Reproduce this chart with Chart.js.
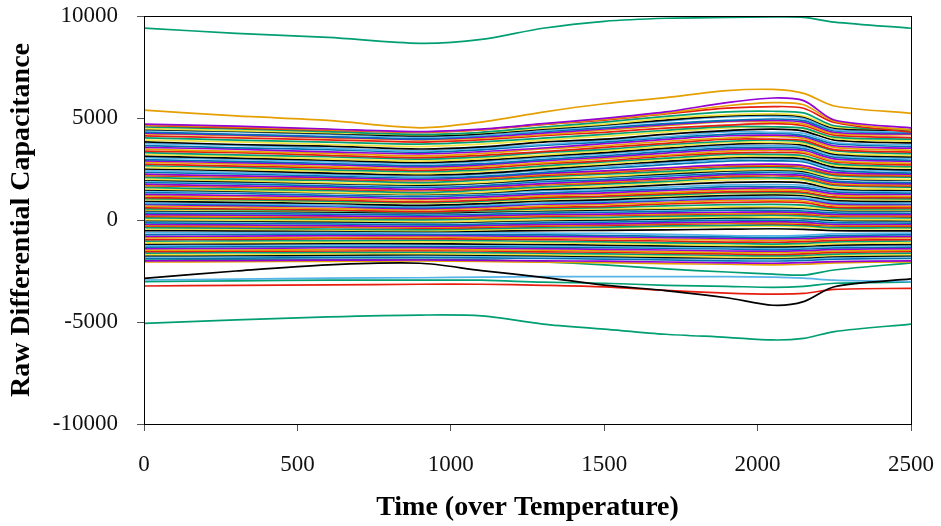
<!DOCTYPE html>
<html>
<head>
<meta charset="utf-8">
<script src="https://cdn.jsdelivr.net/npm/chart.js@4/dist/chart.umd.min.js"></script>
<style>
  html, body { margin: 0; padding: 0; background: #fff; }
  #wrap { width: 941px; height: 526px; }
</style>
</head>
<body>
<div id="wrap"><canvas id="capChart" width="941" height="526"></canvas></div>
<script>
// ─── Data (values at each sample time) ───
const timeSteps = [0, 300, 600, 900, 1100, 1300, 1500, 1700, 1900, 2050, 2150, 2250, 2500];

const xTicks = [0, 500, 1000, 1500, 2000, 2500];
const yTicks = [-10000, -5000, 0, 5000, 10000];

// the few curves that stand apart from the bundle
const outlierRows = [
    [9410, 9150, 8950, 8660, 8850, 9400, 9740, 9890, 9930, 9950, 9930, 9700, 9400],
    [5390, 5100, 4880, 4520, 4800, 5290, 5700, 6000, 6340, 6400, 6210, 5590, 5230],
    [-5065, -4900, -4750, -4660, -4700, -5100, -5350, -5600, -5750, -5880, -5800, -5470, -5100],
    [-2860, -2500, -2200, -2120, -2480, -2810, -3190, -3460, -3810, -4180, -4000, -3270, -2890],
    [-3235, -3200, -3180, -3150, -3150, -3200, -3280, -3450, -3580, -3630, -3600, -3400, -3350],
    [-2940, -2900, -2850, -2830, -2800, -2780, -2780, -2780, -2780, -2800, -2850, -2950, -3020],
    [-3020, -2980, -2950, -2950, -2950, -3050, -3100, -3200, -3250, -3300, -3250, -3100, -3040],
    [-1960, -1950, -1940, -1930, -1950, -2050, -2200, -2400, -2550, -2650, -2700, -2450, -2100]
];
const outlierColors = ['#009E73', '#E69F00', '#009E73', '#000000', '#E51E10', '#56B4E9', '#009E73', '#009E73'];

const bandTop = [
    [4700, 4600, 4460, 4330, 4450, 4720, 4980, 5300, 5750, 5980, 5850, 4900, 4520],
    [4660, 4560, 4430, 4310, 4430, 4700, 4930, 5230, 5600, 5750, 5650, 4850, 4400],
    [4640, 4520, 4400, 4300, 4420, 4680, 4900, 5200, 5480, 5560, 5480, 4780, 4300],
    [4560, 4470, 4330, 4200, 4300, 4560, 4800, 5080, 5300, 5330, 5250, 4620, 4420],
    [4480, 4380, 4280, 4180, 4280, 4500, 4700, 4980, 5150, 5200, 5100, 4560, 4480],
    [4440, 4350, 4240, 4120, 4220, 4450, 4660, 4900, 5100, 5150, 5050, 4500, 4400],
    [4400, 4320, 4200, 4060, 4160, 4380, 4620, 4850, 5050, 5080, 4980, 4420, 4330],
    [4310, 4200, 4090, 3980, 4120, 4330, 4520, 4720, 4880, 4950, 4870, 4380, 4270],
    [4260, 4170, 4060, 3950, 4060, 4260, 4460, 4680, 4850, 4880, 4800, 4300, 4220],
    [4220, 4140, 4020, 3930, 4010, 4180, 4400, 4620, 4820, 4800, 4700, 4230, 4180],
    [4120, 4030, 3930, 3820, 3930, 4130, 4300, 4500, 4650, 4720, 4620, 4160, 4040],
    [4030, 3920, 3820, 3720, 3830, 4010, 4200, 4400, 4580, 4570, 4500, 4060, 3960]
];

const bandUpper = [
    [3920, 3830, 3700, 3600, 3720, 3920, 4100, 4320, 4520, 4560, 4480, 4000, 3870],
    [3830, 3700, 3620, 3480, 3580, 3820, 3960, 4200, 4380, 4450, 4360, 3920, 3780],
    [3740, 3660, 3520, 3400, 3520, 3700, 3900, 4080, 4320, 4300, 4250, 3800, 3680],
    [3650, 3540, 3450, 3320, 3440, 3660, 3820, 4040, 4200, 4260, 4140, 3740, 3600],
    [3560, 3470, 3340, 3240, 3350, 3530, 3740, 3950, 4130, 4160, 4080, 3640, 3520],
    [3470, 3360, 3270, 3140, 3260, 3480, 3640, 3860, 4020, 4100, 4000, 3560, 3420],
    [3380, 3300, 3170, 3060, 3170, 3350, 3560, 3760, 3960, 3960, 3900, 3450, 3330],
    [3300, 3190, 3100, 2980, 3090, 3300, 3460, 3690, 3860, 3920, 3830, 3400, 3250],
    [3210, 3120, 3000, 2890, 3010, 3190, 3390, 3600, 3800, 3810, 3740, 3290, 3160],
    [3130, 3030, 2930, 2820, 2920, 3130, 3300, 3520, 3700, 3750, 3660, 3230, 3090],
    [3060, 2970, 2860, 2750, 2860, 3060, 3240, 3450, 3620, 3650, 3580, 3160, 3020],
    [2960, 2870, 2770, 2660, 2760, 2960, 3150, 3360, 3540, 3560, 3500, 3080, 2930],
    [2900, 2810, 2710, 2600, 2700, 2900, 3080, 3280, 3460, 3480, 3420, 3000, 2870],
    [2820, 2740, 2620, 2520, 2630, 2800, 3010, 3180, 3380, 3420, 3330, 2900, 2780],
    [2740, 2640, 2560, 2430, 2540, 2750, 2900, 3130, 3280, 3310, 3260, 2850, 2700],
    [2660, 2580, 2460, 2370, 2460, 2650, 2850, 3030, 3220, 3220, 3150, 2750, 2620],
    [2580, 2480, 2390, 2270, 2390, 2590, 2750, 2970, 3110, 3160, 3090, 2680, 2550],
    [2500, 2420, 2300, 2210, 2290, 2490, 2690, 2870, 3050, 3060, 3000, 2590, 2460],
    [2420, 2320, 2240, 2120, 2240, 2430, 2590, 2810, 2960, 3000, 2910, 2530, 2390],
    [2340, 2260, 2150, 2060, 2140, 2330, 2530, 2710, 2890, 2900, 2850, 2430, 2300]
];

const bandMid = [
    [2250, 2160, 2090, 1990, 2100, 2280, 2410, 2560, 2700, 2740, 2670, 2330, 2250],
    [2210, 2130, 2050, 1960, 2060, 2240, 2360, 2520, 2660, 2690, 2630, 2290, 2210],
    [2170, 2100, 2000, 1930, 2010, 2190, 2310, 2480, 2630, 2640, 2590, 2240, 2160],
    [2090, 2000, 1940, 1830, 1950, 2110, 2250, 2380, 2540, 2580, 2500, 2180, 2100],
    [2000, 1930, 1830, 1760, 1840, 2040, 2140, 2310, 2440, 2480, 2430, 2070, 1990],
    [1960, 1880, 1800, 1710, 1810, 1990, 2110, 2260, 2410, 2440, 2380, 2040, 1960],
    [1920, 1830, 1770, 1660, 1780, 1940, 2080, 2210, 2380, 2390, 2330, 2010, 1930],
    [1840, 1770, 1670, 1600, 1680, 1880, 1980, 2150, 2280, 2330, 2260, 1910, 1830],
    [1760, 1670, 1610, 1500, 1620, 1780, 1920, 2050, 2220, 2230, 2180, 1850, 1770],
    [1720, 1640, 1560, 1470, 1570, 1750, 1870, 2020, 2170, 2200, 2140, 1800, 1720],
    [1680, 1610, 1510, 1440, 1520, 1720, 1820, 1990, 2120, 2170, 2100, 1750, 1670],
    [1600, 1510, 1450, 1340, 1460, 1620, 1760, 1890, 2060, 2070, 2020, 1690, 1610],
    [1520, 1450, 1350, 1280, 1360, 1560, 1660, 1830, 1960, 2010, 1940, 1590, 1510],
    [1470, 1420, 1340, 1260, 1340, 1500, 1580, 1720, 1840, 1870, 1820, 1520, 1460]
];

const bandLow = [
    [1430, 1380, 1310, 1230, 1300, 1440, 1500, 1610, 1720, 1740, 1700, 1460, 1410],
    [1340, 1300, 1210, 1150, 1220, 1330, 1430, 1510, 1640, 1640, 1600, 1380, 1320],
    [1260, 1200, 1140, 1050, 1130, 1270, 1330, 1450, 1540, 1570, 1530, 1290, 1250],
    [1180, 1140, 1050, 990, 1060, 1180, 1270, 1350, 1470, 1480, 1440, 1220, 1160],
    [1100, 1040, 980, 890, 970, 1110, 1170, 1290, 1380, 1400, 1360, 1130, 1090],
    [1050, 1000, 930, 860, 930, 1060, 1130, 1230, 1340, 1350, 1310, 1090, 1040],
    [1000, 960, 880, 820, 890, 1000, 1090, 1170, 1300, 1300, 1260, 1040, 990],
    [920, 860, 810, 720, 800, 940, 990, 1110, 1200, 1230, 1190, 960, 910],
    [840, 800, 720, 660, 730, 840, 930, 1010, 1130, 1130, 1090, 880, 830],
    [800, 750, 690, 610, 690, 810, 880, 980, 1080, 1100, 1060, 840, 790],
    [760, 700, 650, 560, 640, 780, 830, 950, 1030, 1060, 1020, 790, 750],
    [680, 640, 560, 500, 570, 680, 770, 850, 960, 960, 920, 720, 670],
    [600, 540, 490, 410, 490, 620, 670, 790, 860, 890, 850, 630, 590],
    [550, 510, 470, 400, 460, 560, 610, 690, 750, 770, 730, 570, 540]
];

const bandZero = [
    [500, 470, 450, 400, 440, 500, 540, 580, 640, 650, 620, 510, 500],
    [460, 430, 400, 360, 400, 460, 490, 550, 590, 610, 580, 470, 460],
    [420, 400, 360, 330, 370, 430, 450, 510, 540, 570, 530, 430, 420],
    [340, 310, 290, 240, 280, 340, 380, 420, 480, 470, 440, 350, 330],
    [260, 240, 200, 170, 210, 270, 290, 350, 380, 400, 370, 270, 260],
    [220, 190, 160, 120, 160, 220, 250, 300, 340, 350, 320, 230, 210],
    [180, 150, 130, 80, 120, 180, 220, 260, 300, 310, 280, 190, 170],
    [100, 80, 40, 10, 50, 110, 130, 190, 220, 240, 200, 110, 100],
    [20, -10, -30, -80, -40, 20, 60, 100, 150, 140, 110, 30, 10],
    [-20, -50, -80, -120, -80, -20, 10, 60, 100, 110, 80, -10, -30],
    [-60, -80, -120, -150, -110, -50, -30, 30, 60, 80, 40, -50, -60],
    [-140, -170, -190, -240, -200, -140, -100, -60, -10, -10, -40, -130, -150],
    [-220, -240, -280, -310, -270, -210, -190, -130, -100, -80, -120, -210, -220],
    [-260, -290, -320, -350, -310, -250, -220, -170, -140, -130, -160, -250, -260],
    [-300, -330, -350, -400, -360, -300, -260, -220, -170, -180, -210, -290, -310],
    [-380, -400, -440, -470, -430, -370, -350, -290, -260, -240, -280, -370, -380],
    [-440, -460, -490, -520, -480, -430, -400, -350, -320, -300, -340, -430, -440]
];

const bandNeg = [
    [-520, -530, -540, -560, -550, -520, -510, -480, -450, -430, -460, -520, -530],
    [-620, -610, -600, -620, -630, -640, -660, -700, -760, -780, -750, -680, -640],
    [-720, -700, -690, -700, -720, -730, -760, -800, -830, -860, -830, -770, -720],
    [-800, -790, -770, -760, -780, -800, -830, -860, -900, -920, -900, -840, -800],
    [-880, -860, -850, -830, -860, -890, -900, -950, -980, -1000, -980, -910, -870],
    [-960, -950, -920, -910, -940, -960, -1000, -1030, -1080, -1090, -1060, -1000, -960],
    [-1040, -1020, -1010, -990, -1010, -1050, -1070, -1120, -1150, -1180, -1150, -1070, -1030],
    [-1120, -1110, -1080, -1070, -1100, -1120, -1160, -1190, -1240, -1250, -1220, -1160, -1120],
    [-1180, -1170, -1150, -1160, -1180, -1200, -1230, -1270, -1300, -1320, -1290, -1230, -1190],
    [-1250, -1230, -1220, -1200, -1220, -1260, -1280, -1330, -1360, -1390, -1360, -1290, -1240],
    [-1330, -1310, -1300, -1290, -1310, -1330, -1360, -1380, -1420, -1450, -1420, -1370, -1330],
    [-1400, -1390, -1360, -1350, -1380, -1400, -1440, -1470, -1520, -1530, -1500, -1440, -1400],
    [-1480, -1470, -1450, -1440, -1460, -1480, -1510, -1560, -1590, -1600, -1580, -1520, -1480],
    [-1550, -1530, -1520, -1500, -1520, -1560, -1580, -1630, -1660, -1690, -1660, -1590, -1540],
    [-1620, -1600, -1590, -1580, -1600, -1630, -1660, -1700, -1730, -1760, -1730, -1670, -1620],
    [-1700, -1690, -1660, -1650, -1680, -1700, -1740, -1770, -1820, -1830, -1800, -1740, -1700],
    [-1750, -1740, -1720, -1700, -1720, -1750, -1790, -1830, -1860, -1870, -1850, -1790, -1750],
    [-1800, -1780, -1770, -1750, -1770, -1810, -1830, -1880, -1910, -1940, -1910, -1840, -1790],
    [-1880, -1870, -1840, -1830, -1860, -1880, -1920, -1950, -2000, -2010, -1980, -1920, -1880],
    [-2000, -1990, -1970, -1960, -1980, -2000, -2020, -2060, -2100, -2120, -2090, -2040, -2000],
    [-2060, -2040, -2030, -2010, -2030, -2070, -2090, -2140, -2170, -2200, -2170, -2100, -2050]
];

// gnuplot default line colours
const palette = ['#9400D3', '#009E73', '#56B4E9', '#E69F00', '#F0E442', '#0072B2', '#E51E10', '#000000'];

// ─── Datasets ───
const toPoints = row => row.map((v, i) => ({ x: timeSteps[i], y: v }));
const bandRows = [...bandTop, ...bandUpper, ...bandMid, ...bandLow, ...bandZero, ...bandNeg];

const datasets = [];
bandRows.forEach((row, i) => {
    datasets.push({ data: toPoints(row), borderColor: palette[(i * 3) % palette.length] });
});
outlierRows.forEach((row, i) => {
    datasets.push({ data: toPoints(row), borderColor: outlierColors[i] });
});

// box round the plot area (top and right edges too)
const plotFrame = {
    id: 'plotFrame',
    afterDatasetsDraw(chart) {
        const { ctx, chartArea: a } = chart;
        ctx.save();
        ctx.strokeStyle = '#000';
        ctx.lineWidth = 1;
        ctx.strokeRect(Math.round(a.left) + 0.5, Math.round(a.top) + 0.5,
            Math.round(a.right - a.left), Math.round(a.bottom - a.top));
        ctx.restore();
    }
};

const serif = "'Liberation Serif', 'DejaVu Serif', serif";

new Chart(document.getElementById('capChart'), {
    type: 'line',
    data: { datasets },
    options: {
        responsive: false,
        animation: false,
        events: [],
        devicePixelRatio: 1,
        layout: { padding: { left: 0, right: 30, top: 16, bottom: 0 } },
        elements: {
            line: { borderWidth: 1.7, tension: 0.3, fill: false },
            point: { radius: 0 }
        },
        scales: {
            x: {
                type: 'linear',
                min: 0,
                max: 2500,
                afterBuildTicks: s => { s.ticks = xTicks.map(v => ({ value: v })); },
                afterFit: s => {
                    s.height = 102;
                    s.paddingLeft = 0;
                    s.paddingRight = 0;
                },
                ticks: {
                    font: { family: serif, size: 23 },
                    color: '#111',
                    padding: 20,
                    maxRotation: 0,
                    callback: v => String(v)
                },
                grid: { drawOnChartArea: false, tickLength: 7, color: '#555' },
                border: { color: '#000', width: 1 },
                title: {
                    display: true,
                    text: 'Time (over Temperature)',
                    color: '#000',
                    font: { family: serif, size: 28, weight: 'bold' },
                    padding: { top: 0, bottom: 1 }
                }
            },
            y: {
                min: -10000,
                max: 10000,
                afterBuildTicks: s => { s.ticks = yTicks.map(v => ({ value: v })); },
                afterFit: s => {
                    s.width = 144;
                    s.paddingTop = 0;
                    s.paddingBottom = 0;
                },
                ticks: {
                    font: { family: serif, size: 23 },
                    color: '#111',
                    padding: 19,
                    callback: v => String(v)
                },
                grid: { drawOnChartArea: false, tickLength: 7, color: '#555' },
                border: { color: '#000', width: 1 },
                title: {
                    display: true,
                    text: 'Raw Differential Capacitance',
                    color: '#000',
                    font: { family: serif, size: 28, weight: 'bold' },
                    padding: { top: 5, bottom: 0 }
                }
            }
        },
        plugins: {
            legend: { display: false },
            tooltip: { enabled: false }
        }
    },
    plugins: [plotFrame]
});
</script>
</body>
</html>
